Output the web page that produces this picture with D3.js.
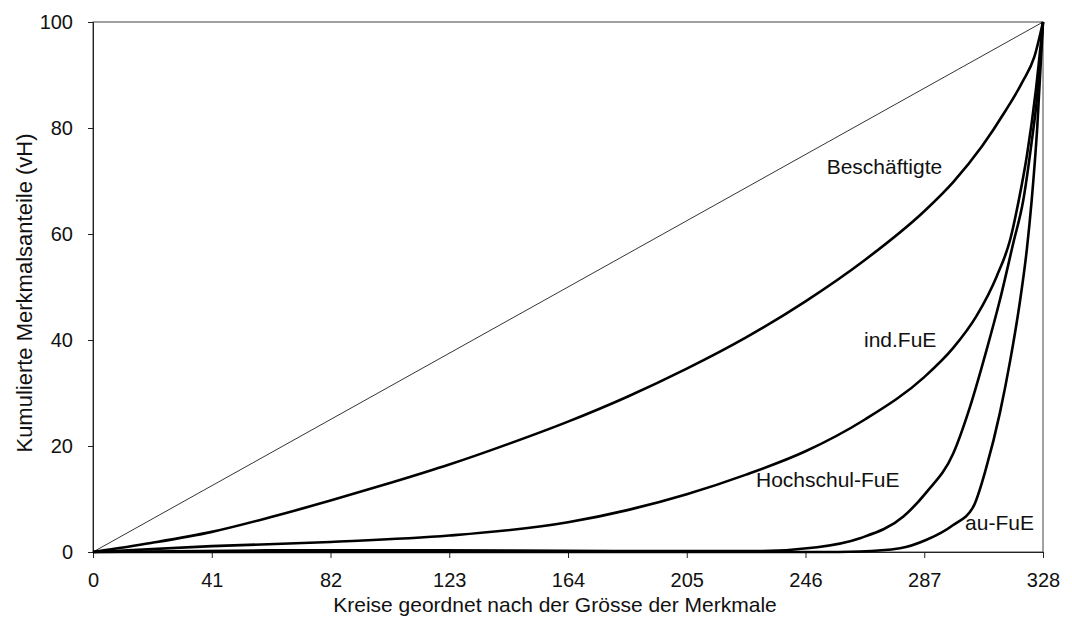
<!DOCTYPE html>
<html>
<head>
<meta charset="utf-8">
<script src="https://cdn.jsdelivr.net/npm/d3@7"></script>
<style>
  body { margin: 0; background: #fff; }
  text { font-family: Arial, "Liberation Sans", sans-serif; fill: #111; }
</style>
</head>
<body>
<svg id="chart" width="1072" height="626"></svg>
<script>
// x values (circles sorted by size) and cumulative shares (vH)
let xTicks = [0, 41, 82, 123, 164, 205, 246, 287, 328]
let yTicks = [0, 20, 40, 60, 80, 100]

let diagX = [0, 328]
let diagY = [0, 100]

let beschX = [0, 20, 41, 61.5, 82, 102.5, 123, 143.5, 164, 184.5, 205, 225.5, 246, 266.5, 287, 297, 307, 315, 321, 325, 328]
let beschY = [0, 1.7, 3.8, 6.6, 9.7, 13.0, 16.5, 20.4, 24.6, 29.3, 34.6, 40.5, 47.3, 55.1, 64.3, 69.8, 76.6, 83.2, 88.8, 93.4, 100]

let indX = [0, 41, 82, 123, 164, 184.5, 205, 225.5, 246, 266.5, 287, 297, 305, 312, 316.7, 319.5, 322.5, 325.5, 328]
let indY = [0, 1.1, 1.9, 3.1, 5.6, 7.9, 10.9, 14.6, 19.0, 25.0, 33.0, 38.5, 44.5, 52.0, 59.0, 66.0, 75.0, 87.0, 100]

let hochX = [0, 60, 120, 180, 230, 250, 264.8, 279.8, 287.8, 297, 302.8, 308.5, 313.1, 317.7, 321.2, 324, 326, 328]
let hochY = [0, 0.3, 0.3, 0.2, 0.2, 0.9, 2.6, 6.7, 11.3, 18.6, 27.4, 38.1, 47.5, 58.2, 66.4, 77, 86, 100]

let auX = [0, 100, 200, 250, 264.8, 278.6, 287.8, 297, 303.9, 308.5, 313.1, 316.7, 320.1, 322.4, 324.1, 326, 328]
let auY = [0, 0, 0, 0, 0.1, 0.7, 2.3, 5.1, 8.5, 16.1, 26.2, 36.2, 47.5, 57.0, 66.4, 80, 100]

let labelNames = ["Beschäftigte", "ind.FuE", "Hochschul-FuE", "au-FuE"]
let labelX = [253.3, 266.2, 228.9, 301.1]
let labelY = [71.3, 38.7, 12.3, 4.15]

const svg = d3.select("#chart")
const margin = { left: 93, top: 22, right: 29, bottom: 74 }
const width = 1072, height = 626

let xScale = d3.scaleLinear().domain([0, 328]).range([margin.left, width - margin.right])
let yScale = d3.scaleLinear().domain([0, 100]).range([height - margin.bottom, margin.top])

// frame
svg.append("rect")
  .attr("x", xScale(0)).attr("y", yScale(100))
  .attr("width", xScale(328) - xScale(0))
  .attr("height", yScale(0) - yScale(100))
  .attr("fill", "none").attr("stroke", "#444").attr("stroke-width", 1)

let xAxis = svg.append("g")
  .attr("transform", `translate(0,${yScale(0)})`)
  .call(d3.axisBottom(xScale).tickValues(xTicks).tickSize(6).tickPadding(15))
let yAxis = svg.append("g")
  .attr("transform", `translate(${xScale(0)},0)`)
  .call(d3.axisLeft(yScale).tickValues(yTicks).tickSize(5).tickPadding(15))

for (let ax of [xAxis, yAxis]) {
  ax.select(".domain").attr("stroke", "#222")
  ax.selectAll(".tick line").attr("stroke", "#222")
  ax.selectAll(".tick text").attr("font-size", 20).attr("font-family", "Arial, 'Liberation Sans', sans-serif").attr("fill", "#111")
}

let line = d3.line()
  .x(d => xScale(d[0]))
  .y(d => yScale(d[1]))
  .curve(d3.curveMonotoneX)

function addCurve(xs, ys, w) {
  svg.append("path")
    .datum(xs.map((x, i) => [x, ys[i]]))
    .attr("d", line)
    .attr("fill", "none")
    .attr("stroke", "#000")
    .attr("stroke-width", w)
    .attr("stroke-linejoin", "round")
}

addCurve(diagX, diagY, 0.8)
addCurve(auX, auY, 2.6)
addCurve(hochX, hochY, 2.6)
addCurve(indX, indY, 2.6)
addCurve(beschX, beschY, 2.6)

svg.selectAll(".lbl")
  .data(labelNames)
  .enter()
  .append("text")
    .attr("x", (d, i) => xScale(labelX[i]))
    .attr("y", (d, i) => yScale(labelY[i]))
    .attr("font-size", 21)
    .text(d => d)

svg.append("text")
  .attr("x", (xScale(0) + xScale(328)) / 2 - 13)
  .attr("y", 612)
  .attr("text-anchor", "middle")
  .attr("font-size", 21)
  .text("Kreise geordnet nach der Grösse der Merkmale")

svg.append("text")
  .attr("transform", `translate(32,293) rotate(-90)`)
  .attr("text-anchor", "middle")
  .attr("font-size", 22)
  .text("Kumulierte Merkmalsanteile (vH)")
</script>
</body>
</html>
